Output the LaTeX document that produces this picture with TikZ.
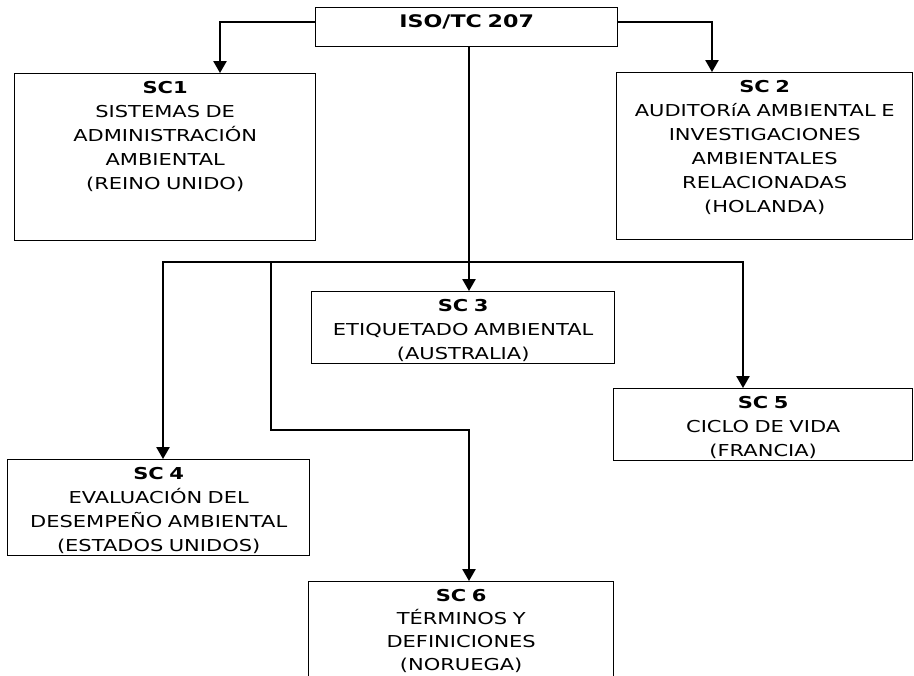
\documentclass[tikz,border=0pt]{standalone}
\usepackage{fontspec}
\setmainfont{DejaVu Sans}[FakeStretch=1.28]
\usetikzlibrary{arrows.meta}

\tikzset{
	caja/.style={draw, line width=1pt, anchor=north west, align=center, inner sep=0pt, text height=15pt, font=\fontsize{12.3}{18}\selectfont},
	flecha/.style={line width=1.2pt, -{Triangle[width=10pt,length=9pt]}},
	linea/.style={line width=1.2pt},
}

\begin{document}
\begin{tikzpicture}[x=0.75pt,y=0.75pt,yscale=-1,xscale=1]
		\useasboundingbox (0,0) rectangle (914,675);
		% cajas
		\node[caja, text width=226.5pt, text depth=14.25pt, font=\fontsize{13}{18}\selectfont\bfseries] (iso) at (315,7) {ISO/TC 207};
		\node[caja, text width=225.75pt, text depth=110.25pt] (sc1) at (14,73) {\textbf{SC1}\\SISTEMAS DE\\ADMINISTRACIÓN\\AMBIENTAL\\(REINO UNIDO)};
		\node[caja, text width=222pt, text depth=110.25pt] (sc2) at (616,72) {\textbf{SC 2}\\AUDITORíA AMBIENTAL E\\INVESTIGACIONES\\AMBIENTALES\\RELACIONADAS\\(HOLANDA)};
		\node[caja, text width=227.25pt, text depth=39pt] (sc3) at (311,291) {\textbf{SC 3}\\ETIQUETADO AMBIENTAL\\(AUSTRALIA)};
		\node[caja, text width=224.25pt, text depth=39pt] (sc5) at (613,388) {\textbf{SC 5}\\CICLO DE VIDA\\(FRANCIA)};
		\node[caja, text width=226.5pt, text depth=57pt] (sc4) at (7,459) {\textbf{SC 4}\\EVALUACIÓN DEL\\DESEMPEÑO AMBIENTAL\\(ESTADOS UNIDOS)};
		\node[caja, text width=228.75pt, text depth=59.25pt, font=\fontsize{12.3}{17.2}\selectfont] (sc6) at (308,581) {\textbf{SC 6}\\TÉRMINOS Y\\DEFINICIONES\\(NORUEGA)};
		% quiebres
		\coordinate (k1) at (220,22);
		\coordinate (k2) at (712,22);
		\coordinate (k3) at (469,262);
		\coordinate (k4) at (163,262);
		\coordinate (k5) at (743,262);
		\coordinate (k6) at (271,262);
		\coordinate (k7) at (469,430);
		% conectores
		\draw[flecha] (k1 -| iso.west) -- (k1) -- (k1 |- sc1.north);
		\draw[flecha] (k2 -| iso.east) -- (k2) -- (k2 |- sc2.north);
		\draw[flecha] (k3 |- iso.south) -- (k3 |- sc3.north);
		\draw[linea, {Triangle[width=10pt,length=9pt]}-{Triangle[width=10pt,length=9pt]}] (k4 |- sc4.north) -- (k4) -- (k5) -- (k5 |- sc5.north);
		\draw[flecha] (k6) |- (k7) -- (k7 |- sc6.north);
\end{tikzpicture}
\end{document}
